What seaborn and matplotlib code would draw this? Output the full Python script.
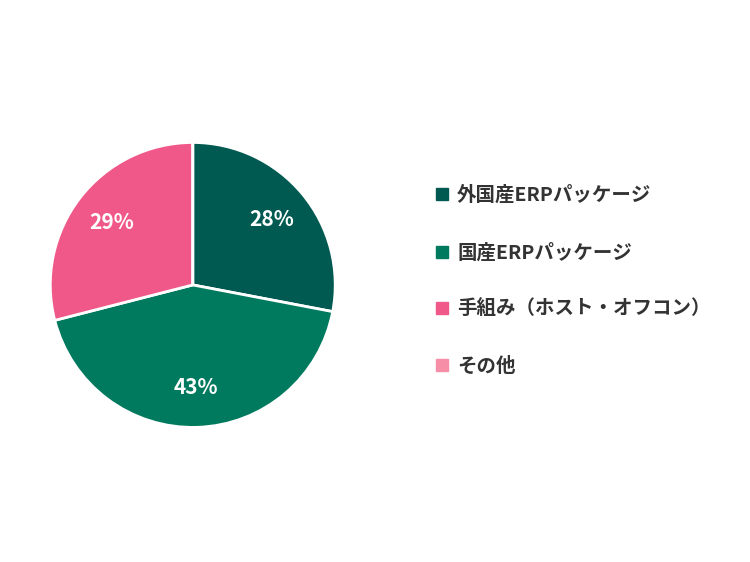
import matplotlib
matplotlib.use("Agg")
import matplotlib.pyplot as plt
import seaborn as sns
from matplotlib.lines import Line2D

sns.set_theme(style="white")
plt.rcParams["font.family"] = "Noto Sans CJK JP"

categories = ["外国産ERPパッケージ", "国産ERPパッケージ", "手組み（ホスト・オフコン）", "その他"]
values = [28, 43, 29, 0]
colors = ["#005a52", "#007a5e", "#f0588a", "#f78ea8"]

fig = plt.figure(figsize=(7.5, 5.62), dpi=100)
ax = fig.add_axes([0.257 - 0.19, 0.493 - 0.2535, 0.38, 0.507])
ax.pie(values, colors=colors, startangle=90, counterclock=False,
       autopct=lambda p: f"{p:.0f}%" if p > 0.5 else "",
       pctdistance=0.72,
       wedgeprops=dict(edgecolor="white", linewidth=2),
       textprops=dict(color="white", fontsize=15, fontweight="bold"))
ax.set_xlim(-1.0, 1.0)
ax.set_ylim(-1.0, 1.0)
ax.set_aspect("equal")

handles = [Line2D([0], [0], marker="s", linestyle="", markersize=8,
                  markerfacecolor=c, markeredgecolor=c) for c in colors]
fig.legend(handles, categories, loc="center left", bbox_to_anchor=(0.555, 0.5),
           frameon=False, labelspacing=1.95, handletextpad=0.4, handlelength=0.8,
           prop=dict(weight="bold", size=14), labelcolor="#333333")
fig.savefig("out.png", dpi=100)
